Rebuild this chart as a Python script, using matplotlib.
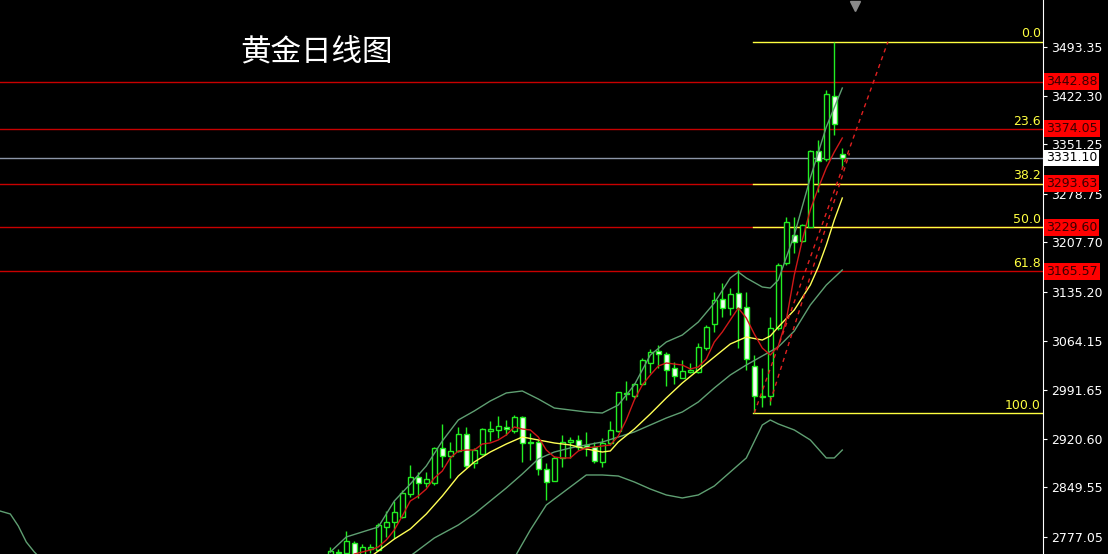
import matplotlib
matplotlib.use("Agg")
import matplotlib.pyplot as plt
import numpy as np

# daily candles, index 0 is the first candle visible at the bottom left
opens = [2747.8, 2753.7, 2753.2, 2767.8, 2749.3, 2759.5, 2758.0, 2792.1, 2799.4, 2805.9,
         2839.9, 2865.2, 2855.6, 2855.6, 2907.6, 2895.9, 2902.8, 2927.2, 2884.8, 2898.4,
         2932.5, 2933.5, 2937.4, 2932.5, 2952.0, 2915.5, 2915.5, 2876.0, 2859.4, 2893.0,
         2916.4, 2918.9, 2911.6, 2909.1, 2887.1, 2914.9, 2932.5, 2985.7, 2983.6, 3000.3,
         3031.4, 3049.0, 3044.1, 3023.4, 3010.2, 3018.7, 3018.7, 3052.9, 3088.0, 3124.5,
         3112.3, 3134.2, 3112.6, 3026.6, 2983.2, 2982.7, 3082.1, 3177.2, 3218.5, 3210.2,
         3230.7, 3341.8, 3329.2, 3422.2, 3336.5]
highs = [2762.9, 2759.5, 2785.8, 2771.6, 2766.8, 2766.8, 2797.9, 2815.1, 2829.7, 2845.8,
         2882.3, 2872.5, 2872.5, 2909.1, 2941.8, 2915.5, 2938.3, 2938.3, 2906.7, 2936.4,
         2946.6, 2953.9, 2948.1, 2955.4, 2953.9, 2928.7, 2918.9, 2884.8, 2895.5, 2926.2,
         2923.7, 2926.2, 2931.0, 2916.4, 2921.3, 2947.1, 2989.5, 3005.1, 3002.2, 3038.0,
         3051.4, 3057.0, 3048.0, 3032.9, 3035.8, 3031.0, 3060.2, 3087.0, 3135.6, 3147.9,
         3141.5, 3167.4, 3135.6, 3043.1, 3024.1, 3099.1, 3177.2, 3245.3, 3244.4, 3234.6,
         3342.8, 3357.4, 3430.5, 3500.9, 3345.3]
lows = [2736.1, 2746.4, 2746.4, 2743.5, 2743.5, 2753.2, 2756.6, 2776.6, 2775.2, 2804.8,
        2836.0, 2833.6, 2850.6, 2853.1, 2879.8, 2862.9, 2901.3, 2877.5, 2877.5, 2897.0,
        2917.8, 2921.3, 2926.2, 2928.7, 2887.1, 2889.6, 2867.7, 2831.2, 2858.9, 2879.8,
        2892.1, 2904.2, 2895.5, 2885.2, 2879.8, 2911.6, 2931.0, 2977.3, 2980.2, 2999.3,
        3016.4, 3024.8, 2998.5, 3000.7, 3009.0, 3016.4, 3016.8, 3050.4, 3077.2, 3099.1,
        3101.6, 3052.9, 3021.2, 2958.3, 2967.5, 2969.3, 3079.7, 3174.7, 3192.7, 3208.3,
        3230.2, 3281.8, 3327.1, 3364.7, 3316.0]
closes = [2756.6, 2755.1, 2771.2, 2749.3, 2762.9, 2762.9, 2794.6, 2798.5, 2813.2, 2840.9,
          2865.2, 2855.6, 2861.4, 2906.7, 2895.9, 2903.2, 2927.6, 2881.3, 2904.2, 2934.9,
          2934.9, 2939.3, 2934.5, 2952.9, 2914.9, 2914.0, 2876.0, 2857.9, 2892.1, 2916.4,
          2918.9, 2909.1, 2909.1, 2888.2, 2914.9, 2933.5, 2988.6, 2988.0, 3000.7, 3035.1,
          3047.1, 3044.6, 3021.2, 3011.7, 3019.7, 3021.2, 3055.5, 3084.5, 3123.5, 3112.3,
          3131.8, 3112.3, 3036.8, 2982.5, 2981.7, 3082.1, 3174.7, 3237.1, 3208.7, 3233.2,
          3341.3, 3326.7, 3424.6, 3380.4, 3331.1]

# indicator lines (candle index, price)
upper_idx = [0, 2, 4, 6, 8, 10, 12, 14, 16, 18, 20, 22, 24, 26, 28, 30, 32, 34, 36, 38,
             40, 42, 44, 46, 48, 50, 51, 52, 54, 55, 56, 58, 60, 62, 64]
upper_val = [2755.1, 2777.1, 2784.4, 2791.7, 2829.7, 2854.5, 2880.9, 2917.4, 2948.1, 2961.3,
             2975.9, 2987.6, 2990.5, 2978.8, 2965.6, 2962.7, 2959.8, 2958.3, 2970.0, 2999.3,
             3043.1, 3062.1, 3072.3, 3091.3, 3119.1, 3155.7, 3164.4, 3155.7, 3142.5, 3141.0,
             3152.8, 3218.5, 3301.9, 3376.4, 3433.4]
mid_idx = [10, 13, 16, 18, 20, 22, 24, 26, 28, 30, 32, 34, 36, 38, 40, 42, 44, 46, 48, 50,
           52, 54, 56, 58, 60, 62, 64]
mid_val = [2749.3, 2775.6, 2794.6, 2810.7, 2829.7, 2848.7, 2869.2, 2891.1, 2901.3, 2907.2,
           2911.6, 2915.9, 2923.2, 2930.6, 2940.8, 2951.0, 2959.8, 2974.4, 2994.9, 3013.9,
           3028.5, 3041.7, 3054.8, 3078.2, 3116.2, 3145.4, 3167.4]
lower_idx = [23, 25, 27, 28, 30, 32, 34, 36, 38, 40, 42, 44, 46, 48, 50, 52, 54, 55, 56, 58,
             60, 62, 63, 64]
lower_val = [2746.4, 2787.3, 2823.8, 2832.6, 2850.2, 2867.7, 2867.7, 2866.2, 2857.5, 2847.2,
             2838.5, 2834.1, 2838.5, 2851.6, 2872.1, 2892.6, 2940.8, 2948.1, 2942.3, 2933.5,
             2918.9, 2892.6, 2892.6, 2904.2]
old_idx = [-41.3, -40, -39, -38, -37, -36]
old_val = [2815.1, 2810.7, 2793.1, 2769.7, 2755.1, 2743.5]
yellow_idx = [5, 6, 8, 10, 12, 14, 16, 18, 20, 22, 24, 26, 28, 30, 32, 34, 35, 36, 38, 40,
              42, 44, 46, 48, 50, 52, 54, 55, 56, 58, 60, 61, 62, 63, 64]
yellow_val = [2747.8, 2756.6, 2774.1, 2788.8, 2810.7, 2837.0, 2866.2, 2886.7, 2901.3, 2913.0,
              2923.2, 2918.9, 2914.5, 2911.6, 2905.7, 2901.3, 2902.8, 2915.9, 2934.9, 2956.9,
              2980.3, 3002.2, 3021.2, 3040.2, 3059.2, 3069.4, 3065.0, 3070.9, 3084.0, 3108.9,
              3145.4, 3171.8, 3203.9, 3240.5, 3272.6]
red_idx = list(range(3, 65))
red_idx.remove(4)
red_val = [2752.2, 2758.0, 2762.5, 2772.7, 2787.3, 2807.8, 2829.7, 2837.0, 2847.2, 2863.3,
           2873.5, 2892.6, 2902.8, 2904.2, 2904.2, 2913.0, 2914.5, 2918.9, 2926.2, 2937.9,
           2934.9, 2933.5, 2923.2, 2904.2, 2894.0, 2892.6, 2892.6, 2902.8, 2907.2, 2908.6,
           2910.1, 2911.6, 2924.7, 2948.1, 2977.3, 2999.3, 3013.9, 3027.0, 3031.4, 3029.9,
           3028.5, 3022.7, 3025.6, 3037.3, 3062.1, 3076.7, 3094.3, 3111.8, 3097.2, 3073.8,
           3053.3, 3043.1, 3056.3, 3094.3, 3160.1, 3211.2, 3255.1, 3287.2, 3316.5, 3339.9,
           3360.3]

# dashed trend lines (start/end)
trend1_idx = [53, 69.7]
trend1_val = [2958.3, 3500.9]
trend2_idx = [55, 64.9]
trend2_val = [2975.0, 3338.0]

# fibonacci retracement
fib_high = 3500.9
fib_low = 2958.3
fib_levels = [0.0, 23.6, 38.2, 50.0, 61.8, 100.0]
fib_hidden = [23.6, 61.8]   # covered by the red lines
red_levels = [3442.88, 3374.05, 3293.63, 3229.60, 3165.57]
last_price = 3331.10
ytick_vals = [3493.35, 3422.30, 3351.25, 3278.75, 3207.70, 3135.20, 3064.15,
              2991.65, 2920.60, 2849.55, 2777.05]

W, H = 1108, 554
fig = plt.figure(figsize=(W / 100, H / 100), dpi=100, facecolor="black")
ax = fig.add_axes([0, 0, 1043 / W, 1])
ax.set_facecolor("black")

x0 = -330.3 / 8
ax.set_xlim(x0, x0 + 1043 / 8)
ax.set_ylim(2752.2, 3562.05)

green = "#22ee22"
band = "#5f9f72"

# horizontal levels
for lv in red_levels:
    ax.axhline(lv, color="#c80000", lw=1, zorder=1)
ax.axhline(last_price, color="#8c96a8", lw=1, zorder=1)

fib_start = 53 - 0.2
for f in fib_levels:
    price = fib_high - f / 100 * (fib_high - fib_low)
    if f not in fib_hidden:
        ax.plot([fib_start, ax.get_xlim()[1]], [price, price], color="#ffff40", lw=1, zorder=1.5)
    ax.text(1041 / 1043, price + 2, f"{f:.1f}", transform=ax.get_yaxis_transform(),
            color="#ffff40", fontsize=9, ha="right", va="bottom", family="DejaVu Sans")

# candles
idx = np.arange(len(opens))
o = np.array(opens)
c = np.array(closes)
ax.vlines(idx, lows, highs, color=green, lw=1, zorder=3)
up = c >= o
bottom = np.minimum(o, c)
height = np.maximum(np.abs(c - o), 1.5)
ax.bar(idx[up], height[up], bottom=bottom[up], width=0.6, facecolor="black",
       edgecolor=green, lw=1, zorder=4)
ax.bar(idx[~up], height[~up], bottom=bottom[~up], width=0.6, facecolor="#f2fff2",
       edgecolor=green, lw=1, zorder=4)

# indicators
ax.plot(old_idx, old_val, color=band, lw=1, zorder=5)
ax.plot(upper_idx, upper_val, color=band, lw=1, zorder=5)
ax.plot(mid_idx, mid_val, color=band, lw=1, zorder=5)
ax.plot(lower_idx, lower_val, color=band, lw=1, zorder=5)
ax.plot(yellow_idx, yellow_val, color="#ffff55", lw=1, zorder=5)
ax.plot(red_idx, red_val, color="#d01818", lw=1, zorder=5)
ax.plot(trend1_idx, trend1_val, color="#e02020", lw=1, ls=(0, (3, 3)), zorder=5)
ax.plot(trend2_idx, trend2_val, color="#e02020", lw=1, ls=(0, (3, 3)), zorder=5)

# right axis
ax.yaxis.tick_right()
ax.set_yticks(ytick_vals)
ax.set_yticklabels([f"{v:.2f}" for v in ytick_vals])
ax.tick_params(axis="y", colors="white", labelsize=9, length=3, pad=3)
ax.set_xticks([])
for s in ["top", "left", "bottom"]:
    ax.spines[s].set_visible(False)
ax.spines["right"].set_color("white")

for lv in red_levels:
    ax.text(1.0 + 3 / 1043, lv, f"{lv:.2f}", transform=ax.get_yaxis_transform(),
            color="#3a0000", fontsize=9, ha="left", va="center", zorder=10, clip_on=False,
            bbox=dict(boxstyle="square,pad=0.15", fc="#ff0000", ec="none"))
ax.text(1.0 + 3 / 1043, last_price, f"{last_price:.2f}", transform=ax.get_yaxis_transform(),
        color="black", fontsize=9, ha="left", va="center", zorder=10, clip_on=False,
        bbox=dict(boxstyle="square,pad=0.15", fc="white", ec="none"))

# small marker at the top
ax.plot([855 / 1043], [1 - 6 / H], marker="v", color="#8a8a8a", ms=7,
        transform=ax.transAxes, clip_on=False)

fig.text(240 / W, 1 - 52 / H, "黄金日线图", color="white", fontsize=22,
         family=["Noto Sans CJK SC", "DejaVu Sans"], ha="left", va="center")

fig.savefig("out.png", dpi=100, facecolor="black")
